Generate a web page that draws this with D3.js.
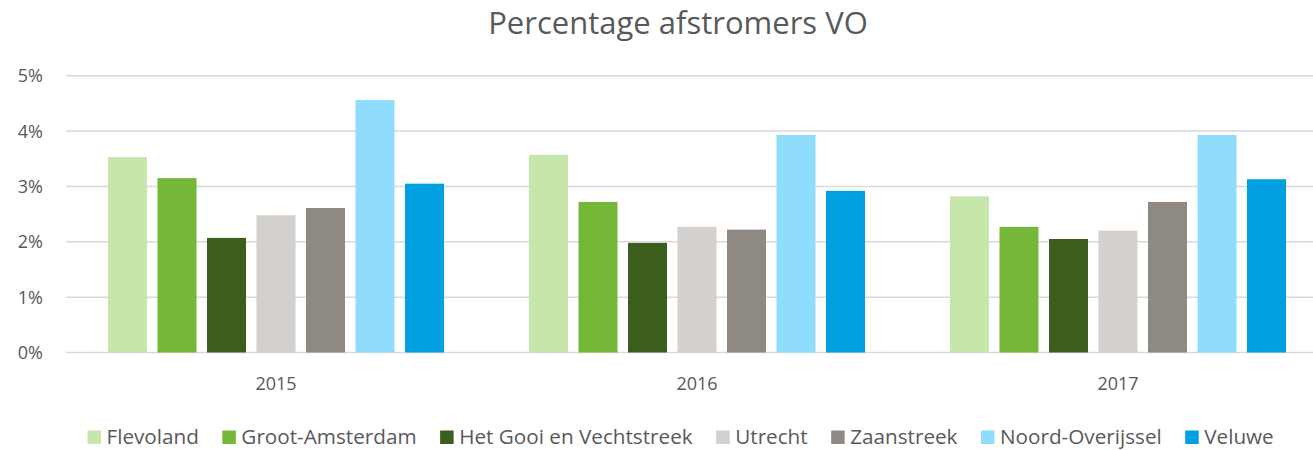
<!DOCTYPE html>
<html>
<head>
<meta charset="utf-8">
<script src="https://cdn.jsdelivr.net/npm/d3@7"></script>
<style>
  body { margin: 0; background: #fff; }
  text { font-family: "Open Sans", sans-serif; fill: #595959; }
</style>
</head>
<body>
<div id="chart"></div>
<script>
// data
var years = ["2015", "2016", "2017"];
var regions = ["Flevoland", "Groot-Amsterdam", "Het Gooi en Vechtstreek", "Utrecht", "Zaanstreek", "Noord-Overijssel", "Veluwe"];
var flevoland       = [3.53, 3.57, 2.82];
var grootAmsterdam  = [3.15, 2.72, 2.27];
var hetGooi         = [2.07, 1.98, 2.05];
var utrecht         = [2.48, 2.27, 2.20];
var zaanstreek      = [2.61, 2.22, 2.72];
var noordOverijssel = [4.56, 3.93, 3.93];
var veluwe          = [3.05, 2.92, 3.13];
var yTicks = [0, 1, 2, 3, 4, 5];

var series = [flevoland, grootAmsterdam, hetGooi, utrecht, zaanstreek, noordOverijssel, veluwe];
var colors = ["#c7e6ac", "#75b738", "#3b5e1d", "#d3d0cd", "#8f8983", "#90dcfd", "#00a0e1"];

var width = 1313, height = 450;

var svg = d3.select("#chart")
  .append("svg")
    .attr("width", width)
    .attr("height", height);

// scales
var x0 = d3.scaleBand()
  .domain(years)
  .range([65.5, 1328.5]);

var x1 = d3.scaleBand()
  .domain(regions)
  .range([42.5, 378.5])
  .paddingInner(0.212);

var y = d3.scaleLinear()
  .domain([0, 5])
  .range([352.5, 75.7]);

// gridlines
svg.append("g")
  .selectAll("line")
  .data(yTicks)
  .join("line")
    .attr("x1", 66)
    .attr("x2", width)
    .attr("y1", d => y(d))
    .attr("y2", d => y(d))
    .attr("stroke", "#d9d9d9")
    .attr("stroke-width", 1.5);

// y labels
svg.append("g")
  .selectAll("text")
  .data(yTicks)
  .join("text")
    .attr("x", 43)
    .attr("y", d => y(d) + 6.5)
    .attr("text-anchor", "end")
    .style("font-size", "18px")
    .text(d => d + "%");

// bars
var groups = svg.append("g")
  .selectAll("g")
  .data(years)
  .join("g")
    .attr("transform", d => "translate(" + x0(d) + ",0)");

groups.selectAll("rect")
  .data((d, i) => regions.map((r, j) => ({region: r, value: series[j][i], color: colors[j]})))
  .join("rect")
    .attr("x", d => x1(d.region))
    .attr("y", d => y(d.value))
    .attr("width", x1.bandwidth())
    .attr("height", d => y(0) - y(d.value))
    .attr("fill", d => d.color);

// year labels
svg.append("g")
  .selectAll("text")
  .data(years)
  .join("text")
    .attr("x", d => x0(d) + x0.bandwidth() / 2)
    .attr("y", 390)
    .attr("text-anchor", "middle")
    .style("font-size", "18px")
    .text(d => d);

// title
svg.append("text")
  .attr("x", 678)
  .attr("y", 33.5)
  .attr("text-anchor", "middle")
  .style("font-size", "31px")
  .text("Percentage afstromers VO");

// legend
var legend = svg.append("g");
var lx = 87.5;
regions.forEach(function(r, i) {
  legend.append("rect")
    .attr("x", lx)
    .attr("y", 430.5)
    .attr("width", 13.5)
    .attr("height", 13.5)
    .attr("fill", colors[i]);
  var t = legend.append("text")
    .attr("x", lx + 19)
    .attr("y", 444)
    .style("font-size", "20.7px")
    .text(r);
  lx += 19 + t.node().getComputedTextLength() + 23.5;
});
</script>
</body>
</html>
